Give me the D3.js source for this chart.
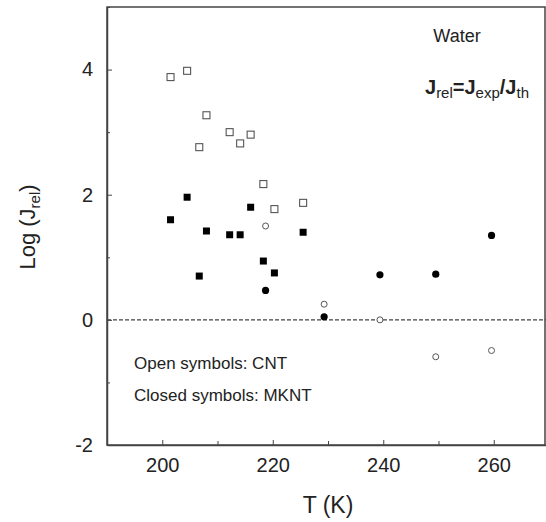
<!DOCTYPE html>
<html>
<head>
<meta charset="utf-8">
<script src="https://cdn.jsdelivr.net/npm/d3@7"></script>
<style>
  body { margin: 0; background: #fff; }
  svg { display: block; font-family: "Liberation Sans", Arial, sans-serif; }
</style>
</head>
<body>
<div id="wrapper"></div>
<script>
// temperatures (K) for the square symbols
const squareT = [201.5, 204.5, 206.7, 208.0, 212.2, 214.1, 216.0, 218.3, 220.3, 225.5]
// open squares: CNT
const openSquareLog = [3.88, 3.98, 2.76, 3.27, 3.00, 2.82, 2.96, 2.17, 1.77, 1.87]
// closed squares: MKNT
const closedSquareLog = [1.60, 1.96, 0.70, 1.42, 1.36, 1.36, 1.80, 0.94, 0.75, 1.40]
// temperatures (K) for the circle symbols
const circleT = [218.7, 229.3, 239.4, 249.5, 259.6]
const openCircleLog = [1.50, 0.25, 0.00, -0.59, -0.49]
const closedCircleLog = [0.47, 0.05, 0.72, 0.73, 1.35]

const xTicks = [190, 200, 210, 220, 230, 240, 250, 260, 270]
const yTicks = [-2, -1, 0, 1, 2, 3, 4, 5]

function drawChart(){
    let dimensions = {
        width: 546,
        height: 522,
        margin: { top: 7, right: -3, bottom: 77, left: 107 },
    }
    dimensions.boundedWidth = dimensions.width - dimensions.margin.left - dimensions.margin.right
    dimensions.boundedHeight = dimensions.height - dimensions.margin.top - dimensions.margin.bottom

    const wrapper = d3.select("#wrapper")
        .append("svg")
        .attr("width", dimensions.width)
        .attr("height", dimensions.height)

    const bounds = wrapper.append("g")
        .attr("transform", `translate(${dimensions.margin.left},${dimensions.margin.top})`)

    const xScale = d3.scaleLinear()
        .domain([190, 270])
        .range([0, dimensions.boundedWidth])
    const yScale = d3.scaleLinear()
        .domain([-2, 5])
        .range([dimensions.boundedHeight, 0])

    const axisColor = "#444"

    // frame (right edge sits just inside the cropped picture)
    bounds.append("rect")
        .attr("width", dimensions.boundedWidth - 4)
        .attr("height", dimensions.boundedHeight)
        .attr("fill", "none")
        .attr("stroke", axisColor)
        .attr("stroke-width", 1.5)

    // x axis, ticks pointing inward
    const xAxis = bounds.append("g")
        .attr("transform", `translate(0,${dimensions.boundedHeight})`)
        .call(d3.axisBottom(xScale)
            .tickValues(xTicks)
            .tickSizeInner(-5)
            .tickSizeOuter(0)
            .tickPadding(13)
            .tickFormat(d => d % 20 == 0 ? d : ""))
    xAxis.select(".domain").attr("stroke", axisColor).attr("stroke-width", 1.5)
    xAxis.selectAll(".tick line")
        .attr("stroke", axisColor)
        .attr("y2", d => d % 20 == 0 ? -5 : -4)
    xAxis.selectAll(".tick text")
        .attr("font-size", 20)
        .attr("fill", "#222")
        .attr("font-family", "Liberation Sans, Arial, sans-serif")

    // y axis
    const yAxis = bounds.append("g")
        .call(d3.axisLeft(yScale)
            .tickValues(yTicks)
            .tickSizeInner(-5)
            .tickSizeOuter(0)
            .tickPadding(14)
            .tickFormat(d => d % 2 == 0 && d < 5 ? d : ""))
    yAxis.select(".domain").attr("stroke", axisColor).attr("stroke-width", 1.5)
    yAxis.selectAll(".tick line")
        .attr("stroke", axisColor)
        .attr("x2", d => d % 2 == 0 ? 5 : 3)
    yAxis.selectAll(".tick text")
        .attr("font-size", 20)
        .attr("fill", "#222")
        .attr("font-family", "Liberation Sans, Arial, sans-serif")

    // dashed zero line
    bounds.append("line")
        .attr("x1", 0)
        .attr("x2", dimensions.boundedWidth)
        .attr("y1", yScale(0))
        .attr("y2", yScale(0))
        .attr("stroke", axisColor)
        .attr("stroke-width", 1.2)
        .attr("stroke-dasharray", "4,2")

    // squares
    const sq = 7
    bounds.selectAll(".open-sq")
        .data(squareT.map((t, i) => [t, openSquareLog[i]]))
        .join("rect")
        .attr("x", d => xScale(d[0]) - sq / 2)
        .attr("y", d => yScale(d[1]) - sq / 2)
        .attr("width", sq)
        .attr("height", sq)
        .attr("fill", "#fff")
        .attr("stroke", "#555")
        .attr("stroke-width", 1.1)

    bounds.selectAll(".closed-sq")
        .data(squareT.map((t, i) => [t, closedSquareLog[i]]))
        .join("rect")
        .attr("x", d => xScale(d[0]) - sq / 2)
        .attr("y", d => yScale(d[1]) - sq / 2)
        .attr("width", sq)
        .attr("height", sq)
        .attr("fill", "#000")

    // circles
    bounds.selectAll(".open-c")
        .data(circleT.map((t, i) => [t, openCircleLog[i]]))
        .join("circle")
        .attr("cx", d => xScale(d[0]))
        .attr("cy", d => yScale(d[1]))
        .attr("r", 3)
        .attr("fill", "#fff")
        .attr("stroke", "#555")
        .attr("stroke-width", 1)

    bounds.selectAll(".closed-c")
        .data(circleT.map((t, i) => [t, closedCircleLog[i]]))
        .join("circle")
        .attr("cx", d => xScale(d[0]))
        .attr("cy", d => yScale(d[1]))
        .attr("r", 3.6)
        .attr("fill", "#000")

    // annotations
    wrapper.append("text")
        .attr("x", 457).attr("y", 42)
        .attr("text-anchor", "middle")
        .attr("font-size", 18)
        .attr("fill", "#222")
        .text("Water")

    const formula = wrapper.append("text")
        .attr("x", 425).attr("y", 94)
        .attr("font-size", 20)
        .attr("font-weight", "bold")
        .attr("fill", "#222")
    const parts = [["J", false], ["rel", true], ["=J", false], ["exp", true], ["/J", false], ["th", true]]
    parts.forEach(p => {
        formula.append("tspan")
            .attr("font-size", p[1] ? 15 : 20)
            .attr("font-weight", p[1] ? "normal" : "bold")
            .attr("dy", p[1] ? 4 : -4)
            .text(p[0])
    })
    formula.select("tspan").attr("dy", 0)

    wrapper.append("text")
        .attr("x", 134).attr("y", 369)
        .attr("font-size", 17)
        .attr("fill", "#222")
        .text("Open symbols: CNT")
    wrapper.append("text")
        .attr("x", 134).attr("y", 401)
        .attr("font-size", 17)
        .attr("fill", "#222")
        .text("Closed symbols: MKNT")

    // axis titles
    wrapper.append("text")
        .attr("x", 328).attr("y", 513)
        .attr("text-anchor", "middle")
        .attr("font-size", 23)
        .attr("fill", "#222")
        .text("T (K)")

    const yLabel = wrapper.append("text")
        .attr("transform", "translate(35,227) rotate(-90)")
        .attr("text-anchor", "middle")
        .attr("font-size", 22)
        .attr("fill", "#222")
    yLabel.append("tspan").text("Log (J")
    yLabel.append("tspan").attr("font-size", 15).attr("dy", 5).text("rel")
    yLabel.append("tspan").attr("dy", -5).text(")")
}
drawChart()
</script>
</body>
</html>
